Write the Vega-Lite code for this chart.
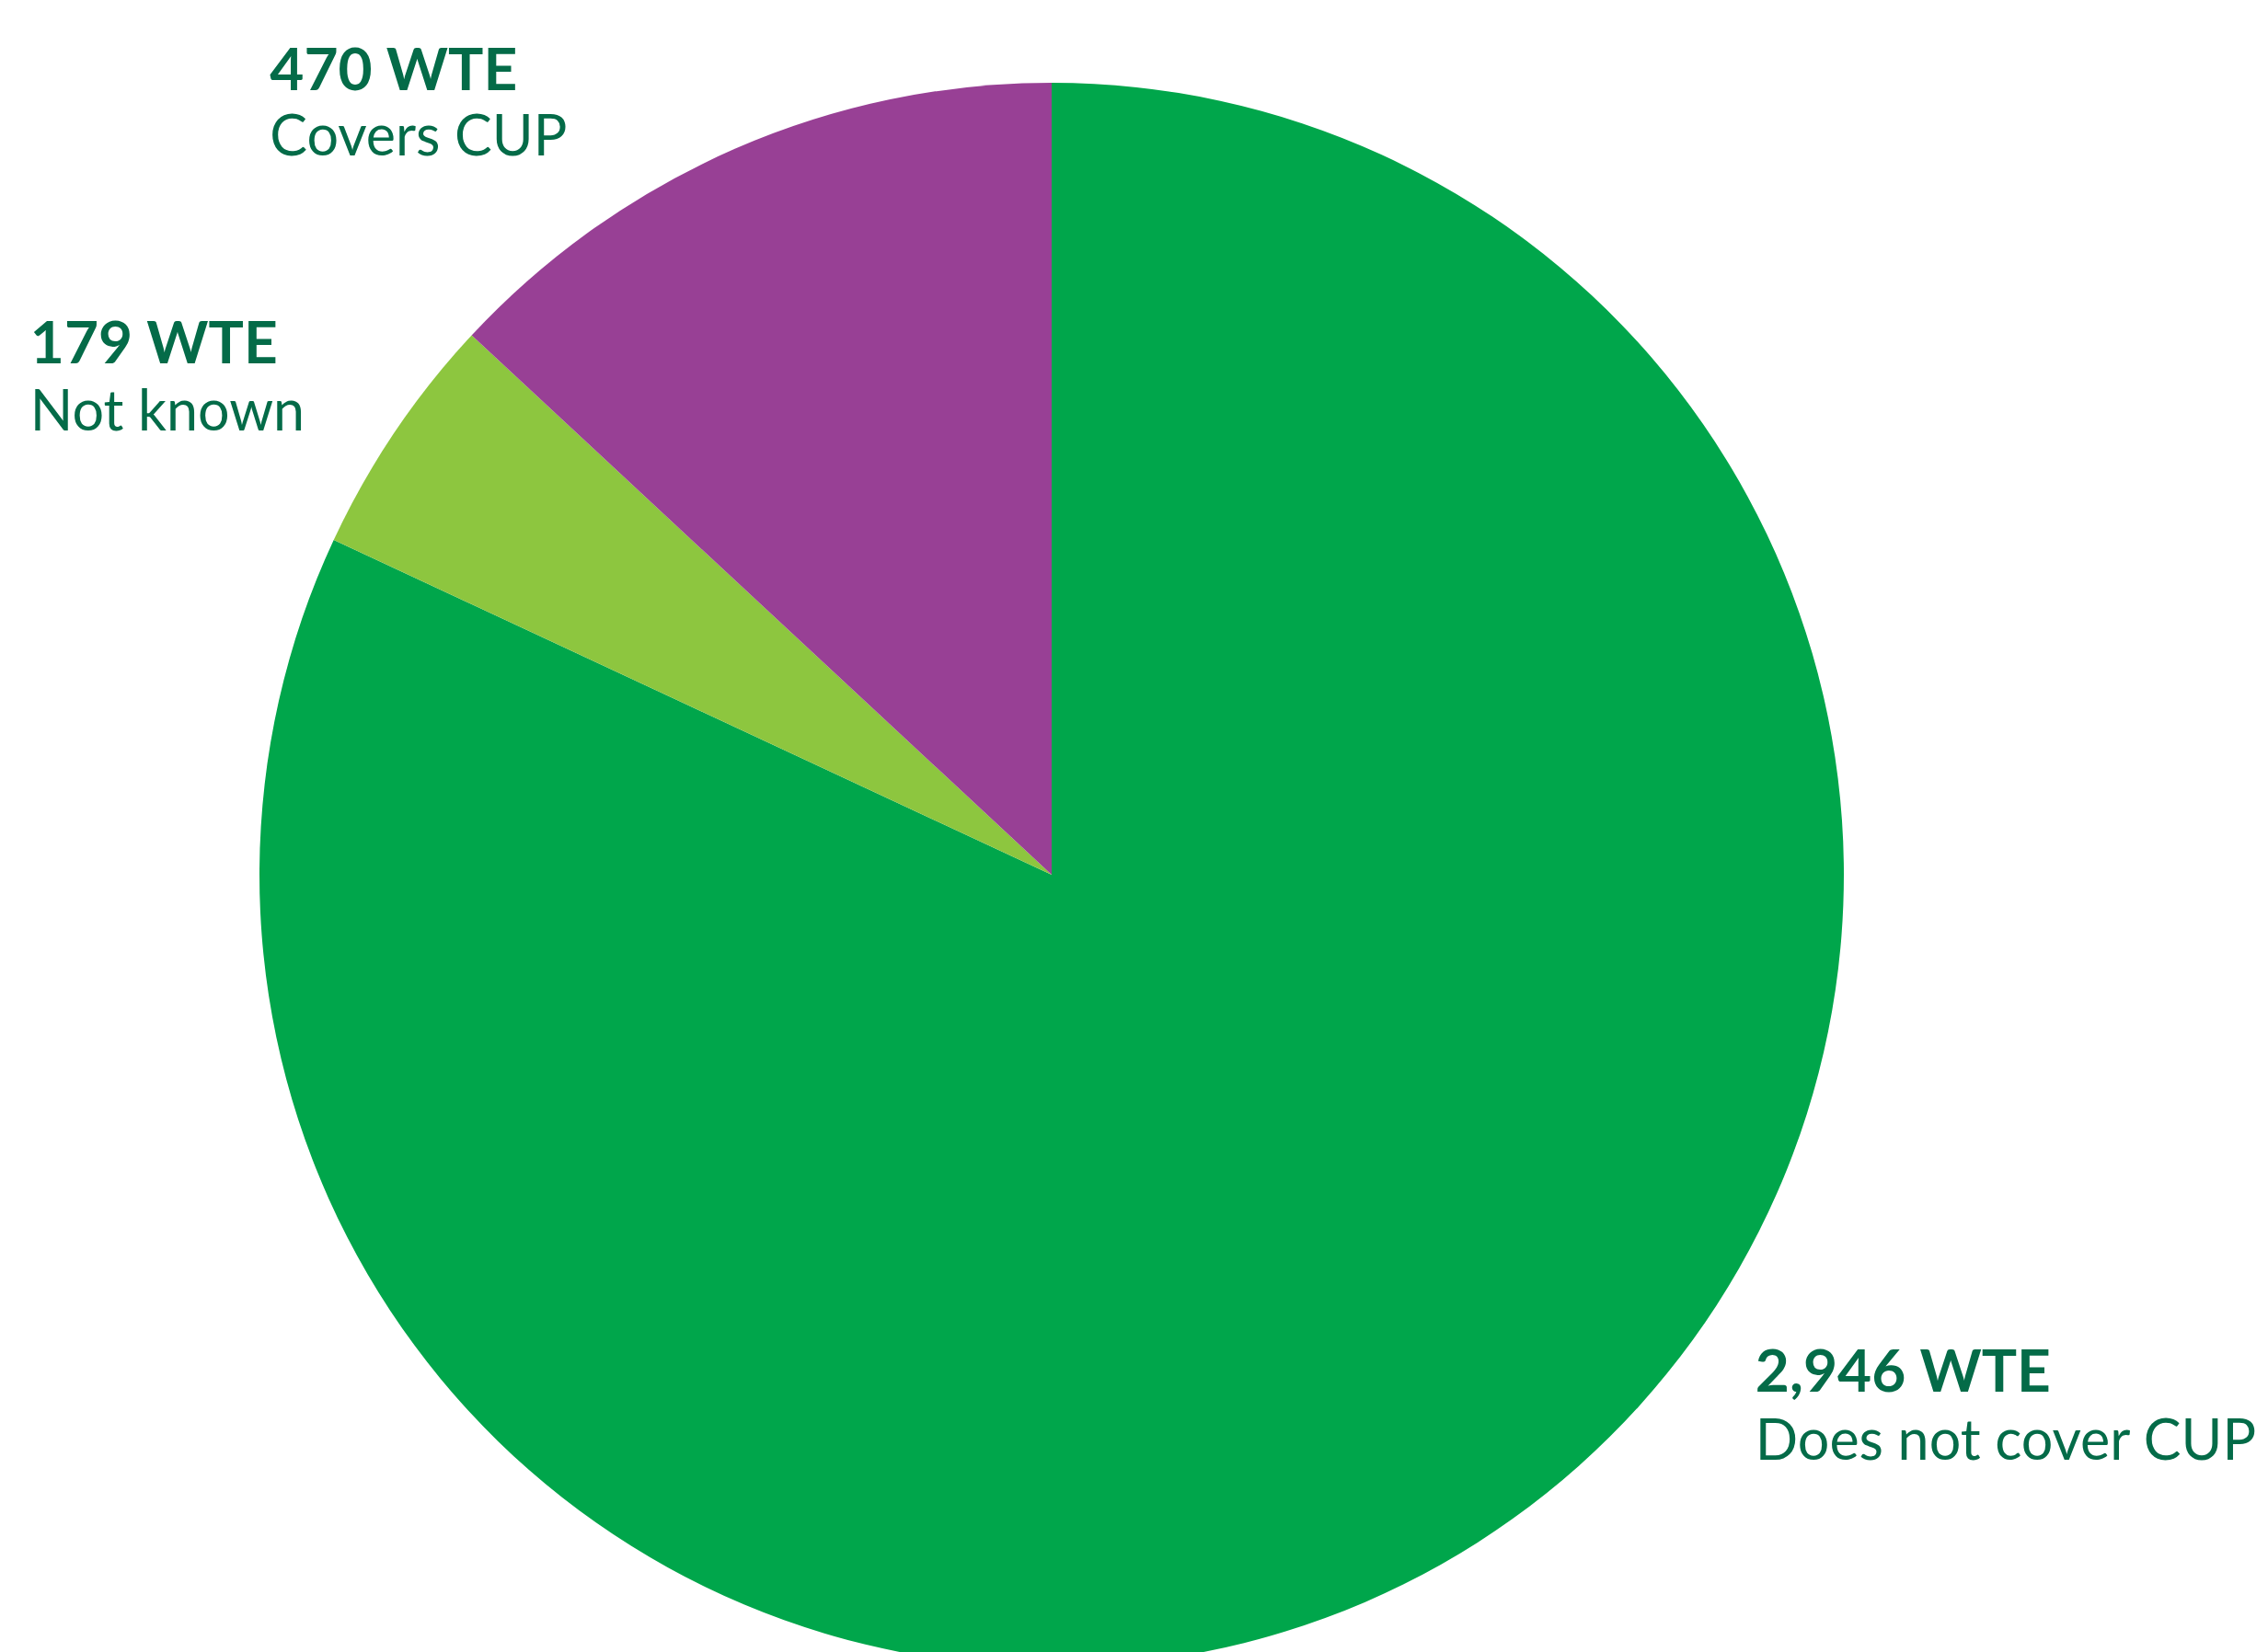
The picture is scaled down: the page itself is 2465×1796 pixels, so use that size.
{
  "$schema": "https://vega.github.io/schema/vega-lite/v6.json",
  "autosize": "none",
  "width": 2286,
  "height": 1690,
  "padding": {"left": 0, "top": 106, "right": 179, "bottom": 0},
  "background": "white",
  "config": {"view": {"stroke": null}},
  "data": {"values": [
    {"cat": "Does not cover CUP", "value": 2946, "ord": 1, "bold": "2,946 WTE"},
    {"cat": "Not known", "value": 179, "ord": 2, "bold": "179 WTE"},
    {"cat": "Covers CUP", "value": 470, "ord": 3, "bold": "470 WTE"}
  ]},
  "encoding": {
    "theta": {"field": "value", "type": "quantitative", "stack": true},
    "order": {"field": "ord", "type": "quantitative"}
  },
  "layer": [
    {
      "mark": {"type": "arc", "outerRadius": 861},
      "encoding": {
        "color": {"field": "cat", "type": "nominal", "legend": null,
          "scale": {"domain": ["Does not cover CUP", "Not known", "Covers CUP"], "range": ["#00a64b", "#8dc63f", "#984095"]}}
      }
    },
    {
      "mark": {"type": "text", "radius": 949, "dx": 255, "dy": -238, "align": "left", "baseline": "alphabetic", "font": "Lato", "fontWeight": "bold", "fontSize": 64, "color": "#046b48"},
      "encoding": {"text": {"condition": {"test": "datum.ord == 1", "field": "bold"}, "value": ""}}
    },
    {
      "mark": {"type": "text", "radius": 949, "dx": 255, "dy": -164, "align": "left", "baseline": "alphabetic", "font": "Lato", "fontSize": 61, "color": "#046b48"},
      "encoding": {"text": {"condition": {"test": "datum.ord == 1", "field": "cat"}, "value": ""}}
    },
    {
      "mark": {"type": "text", "radius": 1241, "dx": -81, "dy": 137, "align": "left", "baseline": "alphabetic", "font": "Lato", "fontWeight": "bold", "fontSize": 64, "color": "#046b48"},
      "encoding": {"text": {"condition": {"test": "datum.ord == 2", "field": "bold"}, "value": ""}}
    },
    {
      "mark": {"type": "text", "radius": 1241, "dx": -81, "dy": 210, "align": "left", "baseline": "alphabetic", "font": "Lato", "fontSize": 61, "color": "#046b48"},
      "encoding": {"text": {"condition": {"test": "datum.ord == 2", "field": "cat"}, "value": ""}}
    },
    {
      "mark": {"type": "text", "radius": 1204, "dx": -369, "dy": 251, "align": "left", "baseline": "alphabetic", "font": "Lato", "fontWeight": "bold", "fontSize": 64, "color": "#046b48"},
      "encoding": {"text": {"condition": {"test": "datum.ord == 3", "field": "bold"}, "value": ""}}
    },
    {
      "mark": {"type": "text", "radius": 1204, "dx": -369, "dy": 322, "align": "left", "baseline": "alphabetic", "font": "Lato", "fontSize": 61, "color": "#046b48"},
      "encoding": {"text": {"condition": {"test": "datum.ord == 3", "field": "cat"}, "value": ""}}
    }
  ]
}
